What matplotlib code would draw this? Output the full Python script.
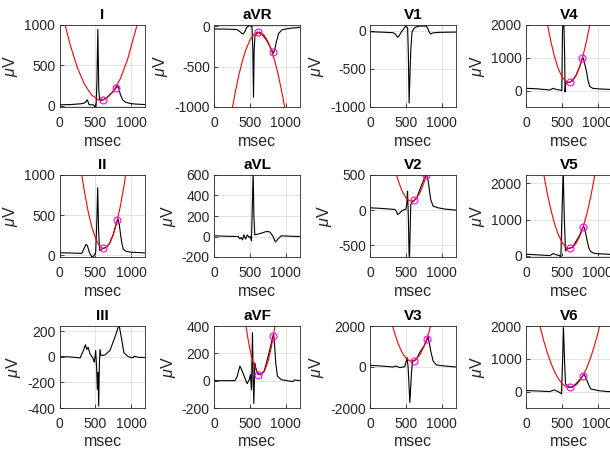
import numpy as np
import matplotlib.pyplot as plt

plt.rcParams['font.family'] = ['Liberation Sans', 'DejaVu Sans']
plt.rcParams['axes.unicode_minus'] = False
plt.rcParams['mathtext.fontset'] = 'custom'
plt.rcParams['mathtext.rm'] = 'Liberation Sans'
plt.rcParams['mathtext.it'] = 'Liberation Sans:italic'

# ---- ECG traces (msec, uV) ----
ms_I = [0, 150, 300, 350, 372, 386, 398, 412, 450, 480, 495, 510, 522, 535, 548, 560, 585, 606, 650, 700, 750, 793, 812, 830, 848, 880, 920, 980, 1050, 1200]
uv_I = [12, 15, 25, 35, 55, 75, 50, 15, 12, 10, -15, -10, 300, 945, 200, 70, 68, 73, 95, 135, 180, 225, 245, 210, 142, 75, 45, 30, 22, 15]

ms_aVR = [0, 150, 315, 361, 390, 407, 431, 454, 486, 530, 542, 551, 560, 572, 590, 616, 680, 732, 780, 819, 829, 850, 871, 903, 949, 1000, 1079, 1200]
uv_aVR = [-35, -35, -40, -67, -90, -96, -67, -18, 6, 0, -300, -880, -300, -110, -100, -76, -110, -170, -250, -322, -334, -280, -190, -88, -45, -35, -24, -15]

ms_V1 = [0, 150, 324, 360, 384, 400, 439, 476, 500, 525, 535, 546, 557, 569, 587, 625, 680, 750, 787, 810, 830, 847, 870, 950, 1050, 1200]
uv_V1 = [-13, -18, -26, -50, -86, -75, -13, 31, 61, 40, -300, -948, -600, -252, -13, 43, 60, 62, 60, 20, -25, -43, -30, -22, -20, -18]

ms_V4 = [0, 150, 333, 380, 420, 470, 500, 509, 525, 540, 545, 555, 590, 611, 650, 700, 750, 787, 800, 820, 843, 866, 889, 930, 1000, 1120, 1200]
uv_V4 = [70, 55, 20, 70, 35, 20, 0, 1800, 2400, 1000, -40, 230, 255, 250, 310, 470, 730, 1000, 990, 800, 600, 300, 130, 70, 55, 40, 35]

ms_II = [0, 150, 311, 345, 371, 390, 418, 450, 479, 505, 520, 533, 546, 560, 585, 611, 650, 700, 750, 805, 819, 835, 852, 870, 890, 930, 1000, 1200]
uv_II = [33, 30, 25, 90, 137, 120, 33, -16, -8, 40, 400, 842, 300, 60, 75, 87, 100, 150, 260, 435, 450, 380, 261, 150, 75, 50, 40, 30]

ms_aVL = [0, 150, 337, 361, 380, 398, 417, 440, 463, 490, 510, 523, 535, 546, 557, 569, 593, 650, 700, 732, 778, 800, 824, 845, 856, 875, 893, 940, 1050, 1200]
uv_aVL = [7, 3, 0, -23, -10, -33, 16, -26, 16, -10, 0, -42, 300, 640, 200, 16, 20, 30, 42, 49, 45, 25, 0, -35, -52, -40, -23, 7, 3, 0]

ms_V2 = [0, 150, 347, 370, 384, 407, 440, 476, 500, 515, 524, 535, 545, 551, 560, 569, 590, 611, 650, 694, 740, 778, 789, 805, 819, 833, 847, 880, 949, 1050, 1200]
uv_V2 = [33, 25, 10, -20, -61, -50, -14, 7, 10, 100, 270, -100, -600, -720, -300, 81, 120, 130, 170, 290, 410, 497, 500, 450, 365, 250, 152, 57, 33, 15, 0]

ms_V5 = [0, 150, 333, 380, 426, 470, 486, 500, 519, 535, 551, 570, 611, 650, 704, 750, 796, 810, 830, 856, 880, 903, 940, 981, 1140, 1200]
uv_V5 = [46, 30, 10, 64, 27, 10, -64, 1000, 2400, 1000, 137, 200, 211, 240, 420, 580, 789, 800, 650, 394, 200, 119, 80, 64, 46, 40]

ms_III = [0, 150, 287, 334, 361, 380, 399, 426, 464, 486, 505, 519, 528, 537, 547, 556, 565, 579, 635, 704, 774, 820, 834, 866, 899, 959, 1000, 1028, 1040, 1100, 1200]
uv_III = [2, 0, -8, 50, 95, 58, 76, 24, -8, -42, 50, -95, -253, -121, -385, -69, 58, 10, 16, 50, 155, 234, 242, 142, 32, 2, -5, -5, 5, -3, -5]

ms_aVF = [0, 150, 292, 324, 361, 384, 431, 463, 491, 509, 523, 537, 547, 556, 569, 583, 616, 650, 700, 732, 780, 824, 833, 847, 861, 885, 940, 1101, 1120, 1200]
uv_aVF = [0, 0, 0, 32, 107, 82, 20, -22, 7, 45, -67, 351, 0, -167, 131, 94, 45, 45, 70, 131, 230, 330, 340, 250, 131, 32, 7, -7, 5, 0]

ms_V3 = [0, 150, 324, 357, 417, 486, 518, 532, 556, 579, 593, 616, 650, 694, 750, 801, 810, 830, 847, 880, 926, 1042, 1200]
uv_V3 = [82, 50, 0, 50, -30, 16, 461, -33, -1729, -280, 296, 296, 400, 708, 1000, 1368, 1449, 1150, 790, 296, 99, 49, 0]

ms_V6 = [0, 150, 333, 393, 449, 495, 510, 523, 537, 551, 579, 611, 650, 704, 750, 796, 810, 830, 856, 880, 903, 1005, 1140, 1200]
uv_V6 = [31, 20, 0, 51, 0, -71, 900, 1949, 1000, 235, 184, 133, 150, 250, 370, 490, 520, 450, 306, 180, 82, 31, 0, 0]

# ---- red fitted curves ----
fit_ms_I = [78, 150, 250, 350, 450, 550, 650, 750, 850, 950, 1082]
fit_uv_I = [1000, 752, 471, 264, 131, 71, 86, 175, 338, 574, 1000]

fit_ms_aVR = [259, 300, 350, 400, 450, 500, 550, 600, 650, 700, 750, 800, 850, 900, 950, 986]
fit_uv_aVR = [-1000, -802, -592, -418, -279, -175, -107, -73, -76, -113, -186, -294, -437, -616, -830, -1000]

fit_ms_V4 = [301, 350, 400, 450, 500, 550, 600, 650, 700, 750, 800, 850, 889]
fit_uv_V4 = [2000, 1464, 1017, 672, 428, 286, 246, 306, 469, 733, 1098, 1565, 2000]

fit_ms_II = [311, 350, 400, 450, 500, 550, 600, 650, 700, 750, 800, 850, 900, 922]
fit_uv_II = [1000, 782, 545, 357, 219, 129, 88, 96, 152, 258, 412, 615, 867, 1000]

fit_ms_V2 = [370, 400, 450, 500, 550, 600, 650, 700, 750, 786]
fit_uv_V2 = [500, 400, 267, 178, 132, 129, 170, 254, 381, 500]

fit_ms_V5 = [249, 300, 350, 400, 450, 500, 550, 600, 650, 700, 750, 800, 850, 900, 961]
fit_uv_V5 = [2228, 1693, 1245, 877, 589, 381, 253, 205, 237, 349, 541, 813, 1165, 1597, 2228]

fit_ms_aVF = [446, 475, 500, 525, 550, 600, 650, 700, 750, 800, 825, 850]
fit_uv_aVF = [400, 304, 234, 175, 126, 62, 42, 66, 133, 245, 317, 400]

fit_ms_V3 = [315, 350, 400, 450, 500, 550, 600, 650, 700, 750, 800, 847]
fit_uv_V3 = [2000, 1577, 1076, 697, 439, 303, 289, 396, 624, 974, 1445, 2000]

fit_ms_V6 = [194, 250, 300, 350, 400, 450, 500, 550, 600, 650, 700, 750, 800, 850, 900, 950, 1000, 1028]
fit_uv_V6 = [2000, 1529, 1166, 856, 601, 400, 253, 160, 121, 136, 206, 329, 506, 737, 1023, 1362, 1756, 2000]

# ---- magenta markers ----
pk_ms_I, pk_uv_I = [606, 793], [73, 225]
pk_ms_aVR, pk_uv_aVR = [616, 819], [-76, -322]
pk_ms_V4, pk_uv_V4 = [611, 787], [250, 1000]
pk_ms_II, pk_uv_II = [611, 805], [87, 435]
pk_ms_V2, pk_uv_V2 = [611, 778], [142, 497]
pk_ms_V5, pk_uv_V5 = [611, 796], [211, 789]
pk_ms_aVF, pk_uv_aVF = [616, 824], [45, 330]
pk_ms_V3, pk_uv_V3 = [616, 801], [296, 1368]
pk_ms_V6, pk_uv_V6 = [611, 796], [133, 490]

leads = ['I', 'aVR', 'V1', 'V4', 'II', 'aVL', 'V2', 'V5', 'III', 'aVF', 'V3', 'V6']
traces = {'I': (ms_I, uv_I), 'aVR': (ms_aVR, uv_aVR), 'V1': (ms_V1, uv_V1), 'V4': (ms_V4, uv_V4),
          'II': (ms_II, uv_II), 'aVL': (ms_aVL, uv_aVL), 'V2': (ms_V2, uv_V2), 'V5': (ms_V5, uv_V5),
          'III': (ms_III, uv_III), 'aVF': (ms_aVF, uv_aVF), 'V3': (ms_V3, uv_V3), 'V6': (ms_V6, uv_V6)}
fits = {'I': (fit_ms_I, fit_uv_I), 'aVR': (fit_ms_aVR, fit_uv_aVR), 'V4': (fit_ms_V4, fit_uv_V4),
        'II': (fit_ms_II, fit_uv_II), 'V2': (fit_ms_V2, fit_uv_V2), 'V5': (fit_ms_V5, fit_uv_V5),
        'aVF': (fit_ms_aVF, fit_uv_aVF), 'V3': (fit_ms_V3, fit_uv_V3), 'V6': (fit_ms_V6, fit_uv_V6)}
marks = {'I': (pk_ms_I, pk_uv_I), 'aVR': (pk_ms_aVR, pk_uv_aVR), 'V4': (pk_ms_V4, pk_uv_V4),
         'II': (pk_ms_II, pk_uv_II), 'V2': (pk_ms_V2, pk_uv_V2), 'V5': (pk_ms_V5, pk_uv_V5),
         'aVF': (pk_ms_aVF, pk_uv_aVF), 'V3': (pk_ms_V3, pk_uv_V3), 'V6': (pk_ms_V6, pk_uv_V6)}

# axis limits / ticks per lead
ylims = {'I': (-15, 1000), 'aVR': (-1000, 15), 'V1': (-1000, 75), 'V4': (-500, 2000),
         'II': (-20, 1000), 'aVL': (-200, 600), 'V2': (-667, 500), 'V5': (-30, 2228),
         'III': (-400, 242), 'aVF': (-200, 400), 'V3': (-2000, 2000), 'V6': (-500, 2000)}
yticks = {'I': [0, 500, 1000], 'aVR': [-1000, -500, 0], 'V1': [-1000, -500, 0], 'V4': [0, 1000, 2000],
          'II': [0, 500, 1000], 'aVL': [-200, 0, 200, 400, 600], 'V2': [-500, 0, 500], 'V5': [0, 1000, 2000],
          'III': [-400, -200, 0, 200], 'aVF': [-200, 0, 200, 400], 'V3': [-2000, 0, 2000], 'V6': [0, 1000, 2000]}

W, H = 610, 451
col_left = [59.5, 214, 370, 526]
row_top = [25, 175, 326]
aw, ah = 86, 82
ink = '#262626'

fig = plt.figure(figsize=(W / 100, H / 100), dpi=100)

for i, lead in enumerate(leads):
    r, c = divmod(i, 4)
    ax = fig.add_axes([col_left[c] / W, (H - row_top[r] - ah) / H, aw / W, ah / H])
    ax.set_axisbelow(True)
    ax.grid(True, color='#dedede', lw=0.6)
    t, v = traces[lead]
    ax.plot(t, v, color='k', lw=0.8)
    if lead in fits:
        ax.plot(fits[lead][0], fits[lead][1], color='red', lw=0.8)
        ax.plot(marks[lead][0], marks[lead][1], 'o', mfc='none', mec='#ff00ff', ms=5, mew=0.8)
    ax.set_xlim(0, 1200)
    ax.set_ylim(*ylims[lead])
    ax.set_xticks([0, 500, 1000])
    ax.set_yticks(yticks[lead])
    ax.tick_params(direction='in', length=3, width=0.6, color=ink, labelcolor=ink, labelsize=10)
    ax.tick_params(axis='x', pad=6.5)
    ax.tick_params(axis='y', pad=3)
    for s in ax.spines.values():
        s.set_color(ink)
        s.set_linewidth(0.6)
    ax.set_title(lead, fontsize=11, fontweight='bold', pad=4)
    ax.set_xlabel('msec', fontsize=11.5, color=ink, labelpad=2.5)
    ax.set_ylabel(r'$\mu$V', fontsize=11.5, color=ink, labelpad=3)

fig.savefig('out.png', dpi=100)
